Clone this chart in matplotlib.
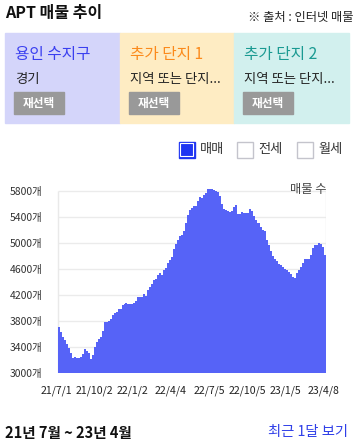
import numpy as np
import matplotlib
matplotlib.use('Agg')
import matplotlib.pyplot as plt
from matplotlib.patches import Rectangle

plt.rcParams['font.family'] = ['Noto Sans CJK KR', 'DejaVu Sans']

# listing counts (one value per step), 21/7/1 ~ 23/4/8
counts = [
    3708, 3641, 3564, 3508, 3446, 3385, 3318, 3236, 3251, 3236, 3236, 3251,
    3292, 3374, 3344, 3318, 3215, 3282, 3405, 3477, 3523, 3564, 3656, 3785,
    3795, 3800, 3831, 3897, 3923, 3949, 3990, 3985, 4051, 4072, 4082,
    4072, 4072, 4072, 4077, 4103, 4174, 4174, 4174, 4215, 4185, 4282, 4328,
    4374, 4436, 4441, 4513, 4538, 4503, 4585, 4615, 4692, 4738, 4790, 4903,
    4985, 5041, 5103, 5128, 5185, 5308, 5426, 5513, 5544, 5564, 5574,
    5641, 5703, 5697, 5744, 5774, 5831, 5836, 5831, 5815, 5795, 5785, 5723,
    5600, 5518, 5503, 5487, 5482, 5497, 5554, 5590, 5451, 5441, 5482, 5467,
    5462, 5456, 5528, 5487, 5415, 5359, 5303, 5303, 5251, 5205, 5179,
    5046, 4974, 4877, 4805, 4749, 4718, 4677, 4656, 4636, 4595, 4579, 4554,
    4523, 4472, 4462, 4533, 4579, 4631, 4692, 4759, 4759, 4759, 4815, 4923,
    4969, 4974, 5000, 4990, 4933, 4821,
]
date_labels = ['21/7/1', '21/10/2', '22/1/2', '22/4/4', '22/7/5', '22/10/5', '23/1/5', '23/4/8']
y_ticks = [3000, 3400, 3800, 4200, 4600, 5000, 5400, 5800]

panel_titles = ['용인 수지구', '추가 단지 1', '추가 단지 2']
panel_subs = ['경기', '지역 또는 단지...', '지역 또는 단지...']
panel_bg = ['#d4d5fa', '#feecc3', '#d2f0ee']
panel_fg = ['#3a3ff0', '#fb8a1c', '#1a9a92']
legend_items = ['매매', '전세', '월세']

W, H = 358, 447


def fx(x):
    return x / W


def fy(y):
    return 1 - y / H


fig = plt.figure(figsize=(W / 100, H / 100), dpi=100)

# header
fig.text(fx(5), fy(13), 'APT 매물 추이', fontsize=11.5, fontweight='bold',
         color='#111111', va='center', ha='left')
fig.text(fx(354), fy(17), '※ 출처 : 인터넷 매물', fontsize=8.8,
         color='#222222', va='center', ha='right')

# selection panels
panel_x = [5, 120, 234, 349]
for i in range(3):
    x0, x1 = panel_x[i], panel_x[i + 1]
    fig.patches.append(Rectangle((fx(x0), fy(123)), fx(x1 - x0), 90 / H,
                                 transform=fig.transFigure, color=panel_bg[i], zorder=0))
    fig.text(fx(x0 + 10), fy(54), panel_titles[i], fontsize=11.3, color=panel_fg[i],
             va='center', ha='left')
    fig.text(fx(x0 + 10), fy(79), panel_subs[i], fontsize=9.6, color='#222222',
             va='center', ha='left')
    fig.patches.append(Rectangle((fx(x0 + 9), fy(114)), fx(50), 22 / H,
                                 transform=fig.transFigure, color='#999999', zorder=1))
    fig.text(fx(x0 + 34), fy(103), '재선택', fontsize=8.4, color='white',
             fontweight='bold', va='center', ha='center')

# legend check boxes
box_x = [179, 237, 297]
for i, lab in enumerate(legend_items):
    bx = box_x[i]
    if i == 0:
        fig.patches.append(Rectangle((fx(bx), fy(157.5)), fx(15.5), 15.5 / H,
                                     transform=fig.transFigure, facecolor='#1f35f2',
                                     edgecolor='#1f35f2', lw=1, zorder=2))
        fig.patches.append(Rectangle((fx(bx + 1.3), fy(156.2)), fx(12.9), 12.9 / H,
                                     transform=fig.transFigure, facecolor='#1f35f2',
                                     edgecolor='white', lw=0.8, zorder=3))
    else:
        fig.patches.append(Rectangle((fx(bx), fy(157.5)), fx(15.5), 15.5 / H,
                                     transform=fig.transFigure, facecolor='white',
                                     edgecolor='#c4c4cc', lw=1, zorder=2))
    fig.text(fx(bx + 21), fy(150), lab, fontsize=9.5, color='#333333',
             va='center', ha='left')

# chart
y_bot, y_5800 = 373.3, 191.0
px_per_unit = (y_bot - y_5800) / 2800
y_top_val = 5900
ax_top = y_5800 - (y_top_val - 5800) * px_per_unit
ax = fig.add_axes([fx(56), fy(y_bot), fx(270), (y_bot - ax_top) / H])

n = len(counts)
edges = np.arange(n + 1)
vals = np.array(counts + [counts[-1]])
ax.hlines(y_ticks[1:], 0, n, color='#ebebeb', lw=1, zorder=0)
ax.vlines([0, n], 3000, 5800, color='#e9e9e9', lw=1, zorder=0)
ax.fill_between(edges, vals, 3000, step='post', color='#5663f7', lw=0, zorder=2)

ax.set_xlim(0, n)
ax.set_ylim(3000, y_top_val)
ax.set_yticks(y_ticks)
ax.set_yticklabels([f'{v}개' for v in y_ticks], fontsize=7.5, color='#333333')
ax.set_xticks(np.linspace(-1, n - 1, len(date_labels)))
ax.set_xticklabels(date_labels, fontsize=7.6, color='#222222')
ax.tick_params(axis='y', length=0, pad=9.6)
ax.tick_params(axis='x', length=0, pad=9)
for s in ax.spines.values():
    s.set_visible(False)
ax.patch.set_alpha(0)

fig.text(fx(326), fy(190), '매물 수', fontsize=8.8, color='#444444',
         va='center', ha='right')

# footer
fig.text(fx(5), fy(433), '21년 7월 ~ 23년 4월', fontsize=10.5, fontweight='bold',
         color='#111111', va='center', ha='left')
fig.text(fx(348), fy(432), '최근 1달 보기', fontsize=10.3,
         color='#2f3fe8', va='center', ha='right')

fig.savefig('out.png', dpi=100)
